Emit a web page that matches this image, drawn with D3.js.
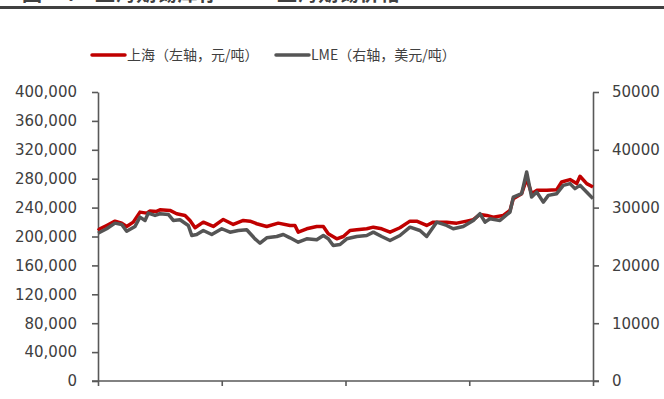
<!DOCTYPE html>
<html>
<head>
<meta charset="utf-8">
<script src="https://cdn.jsdelivr.net/npm/d3@7/dist/d3.min.js"></script>
<style>
  html, body { margin: 0; padding: 0; background: #fff; }
  svg { display: block; }
</style>
</head>
<body>
<svg id="chart" width="664" height="399"></svg>
<script>
// Shanghai tin futures (yuan/ton, left axis) — month offset from start of period
const shMonths = [0, 0.19, 0.84, 1.65, 2.30, 2.78, 3.42, 4.07, 4.72, 5.04, 5.69, 6.01, 6.98, 7.63, 8.44, 8.92,
  9.41, 10.21, 11.18, 12.15, 13.12, 14.09, 14.74, 15.39, 16.36, 17.48, 18.62, 19.10, 19.42, 20.24, 21.21, 21.85,
  22.33, 23.15, 23.79, 24.44, 25.09, 26.06, 26.70, 27.51, 28.32, 29.28, 30.25, 30.90, 31.87, 32.51, 33.81, 34.78,
  35.75, 36.39, 37.04, 37.69, 38.33, 39.30, 39.95, 40.27, 41.08, 41.57, 42.05, 42.54, 43.51, 44.48, 44.96, 45.77,
  46.42, 46.74, 47.39, 48];
const shPrices = [208300, 210700, 215300, 221250, 218470, 213900, 219860, 233750, 232360, 235140, 234720, 237080,
  236110, 231530, 229170, 222220, 212080, 219860, 213890, 223610, 216670, 222220, 221250, 217640, 213890, 218470,
  215280, 215280, 205970, 210690, 213890, 213890, 203750, 196810, 200000, 208330, 209310, 210690, 212920, 210690,
  205970, 212080, 221250, 221250, 215280, 219860, 219860, 218470, 221250, 223190, 230560, 229170, 226810, 229170,
  236110, 252360, 259310, 280140, 259310, 263890, 263890, 264860, 275420, 278750, 273190, 283330, 273190, 268470];

// LME tin (USD/ton, right axis)
const lmeMonths = [0, 0.84, 1.65, 2.30, 2.78, 3.59, 4.07, 4.56, 4.88, 5.53, 6.01, 6.82, 7.30, 7.95, 8.76, 9.09,
  9.57, 10.21, 11.03, 12.00, 12.80, 13.61, 14.42, 15.22, 15.71, 16.36, 17.33, 17.97, 18.62, 19.42, 20.24, 21.21,
  21.85, 22.33, 22.81, 23.47, 24.12, 25.09, 26.06, 26.70, 27.51, 28.32, 29.28, 30.25, 31.22, 31.87, 32.84, 33.81,
  34.45, 35.42, 36.39, 37.04, 37.53, 38.01, 38.98, 39.95, 40.27, 41.08, 41.57, 42.05, 42.54, 43.18, 43.67, 44.48,
  45.12, 45.77, 46.25, 46.74, 47.54, 48];
const lmePrices = [25570, 26340, 27310, 27080, 25920, 26740, 28350, 27780, 29050, 28650, 28940, 28820, 27780, 27900,
  26910, 25170, 25350, 26040, 25350, 26340, 25750, 26040, 26160, 24600, 23840, 24770, 25000, 25350, 24770, 24010,
  24600, 24430, 25170, 24600, 23440, 23610, 24600, 25000, 25170, 25750, 25000, 24310, 25170, 26610, 26040, 25000,
  27480, 26910, 26340, 26740, 27780, 28940, 27480, 28070, 27780, 29220, 31820, 32410, 36160, 31820, 32690, 30950,
  32120, 32410, 33850, 34150, 33280, 33850, 32410, 31550];

const leftTicks = [0, 40000, 80000, 120000, 160000, 200000, 240000, 280000, 320000, 360000, 400000];
const rightTicks = [0, 10000, 20000, 30000, 40000, 50000];
const xTicks = [0, 12, 24, 36, 48];

const legendItems = ["上海（左轴，元/吨）", "LME（右轴，美元/吨）"];
const titleParts = ["图", "：", "上海期锡库存", "上海期锡价格"];

const RED = "#c00000", GREY = "#555555", AXIS = "#595959", TEXT = "#404040";
const FONT = "'DejaVu Sans', sans-serif";
const CJK = "'Noto Sans CJK SC', sans-serif";

const svg = d3.select("#chart");
const m = { left: 98, right: 593, top: 92, bottom: 381 };

const x = d3.scaleLinear().domain([0, 48]).range([m.left, m.right]);
const yL = d3.scaleLinear().domain([0, 400000]).range([m.bottom, m.top]);
const yR = d3.scaleLinear().domain([0, 50000]).range([m.bottom, m.top]);

// Header strip: clipped heading text and a rule beneath it
const head = svg.append("g").attr("font-family", CJK).attr("font-weight", "bold")
  .attr("font-size", 20).attr("fill", "#404040");
head.append("text").attr("x", 22).attr("y", 1).text(titleParts[0]);
head.append("text").attr("x", 66).attr("y", 1).text(titleParts[1]);
head.append("text").attr("x", 95).attr("y", 1).attr("textLength", 123).text(titleParts[2]);
head.append("text").attr("x", 277).attr("y", 1).attr("textLength", 123).text(titleParts[3]);
svg.append("rect").attr("x", 0).attr("y", 6).attr("width", 664).attr("height", 3).attr("fill", "#404040");

// Legend
const legend = svg.append("g").attr("font-family", CJK).attr("font-size", 14).attr("fill", TEXT);
[[92, RED, legendItems[0]], [276, GREY, legendItems[1]]].forEach(([lx, c, t]) => {
  legend.append("line").attr("x1", lx).attr("x2", lx + 33).attr("y1", 55).attr("y2", 55)
    .attr("stroke", c).attr("stroke-width", 3.5).attr("stroke-linecap", "round");
  legend.append("text").attr("x", lx + 35).attr("y", 60).text(t);
});

// Axes
function styleAxis(g) {
  g.selectAll("path").attr("stroke", AXIS).attr("stroke-width", 1.6);
  g.selectAll("line").attr("stroke", AXIS).attr("stroke-width", 1.6);
  g.selectAll("text").attr("fill", TEXT).attr("font-family", FONT).attr("font-size", 15);
}
const fmt = d3.format(",");
svg.append("g").attr("transform", `translate(${m.left},0)`)
  .call(d3.axisLeft(yL).tickValues(leftTicks).tickFormat(fmt).tickSizeInner(6).tickSizeOuter(0).tickPadding(15))
  .call(styleAxis);
svg.append("g").attr("transform", `translate(${m.right},0)`)
  .call(d3.axisRight(yR).tickValues(rightTicks).tickFormat(d3.format("d")).tickSizeInner(6).tickSizeOuter(0).tickPadding(13))
  .call(styleAxis);
const xa = svg.append("g").attr("transform", `translate(0,${m.bottom})`)
  .call(d3.axisBottom(x).tickValues(xTicks).tickFormat("").tickSizeInner(5).tickSizeOuter(0))
  .call(styleAxis);
xa.select("path").attr("d", `M${m.left - 6},0H${m.right + 6}`);

// Series
const shData = shMonths.map((mo, i) => [mo, shPrices[i]]);
const lmeData = lmeMonths.map((mo, i) => [mo, lmePrices[i]]);
svg.append("path").datum(shData)
  .attr("fill", "none").attr("stroke", RED).attr("stroke-width", 3.5).attr("stroke-linejoin", "round")
  .attr("d", d3.line().x(d => x(d[0])).y(d => yL(d[1])));
svg.append("path").datum(lmeData)
  .attr("fill", "none").attr("stroke", GREY).attr("stroke-width", 3.5).attr("stroke-linejoin", "round")
  .attr("d", d3.line().x(d => x(d[0])).y(d => yR(d[1])));
</script>
</body>
</html>
